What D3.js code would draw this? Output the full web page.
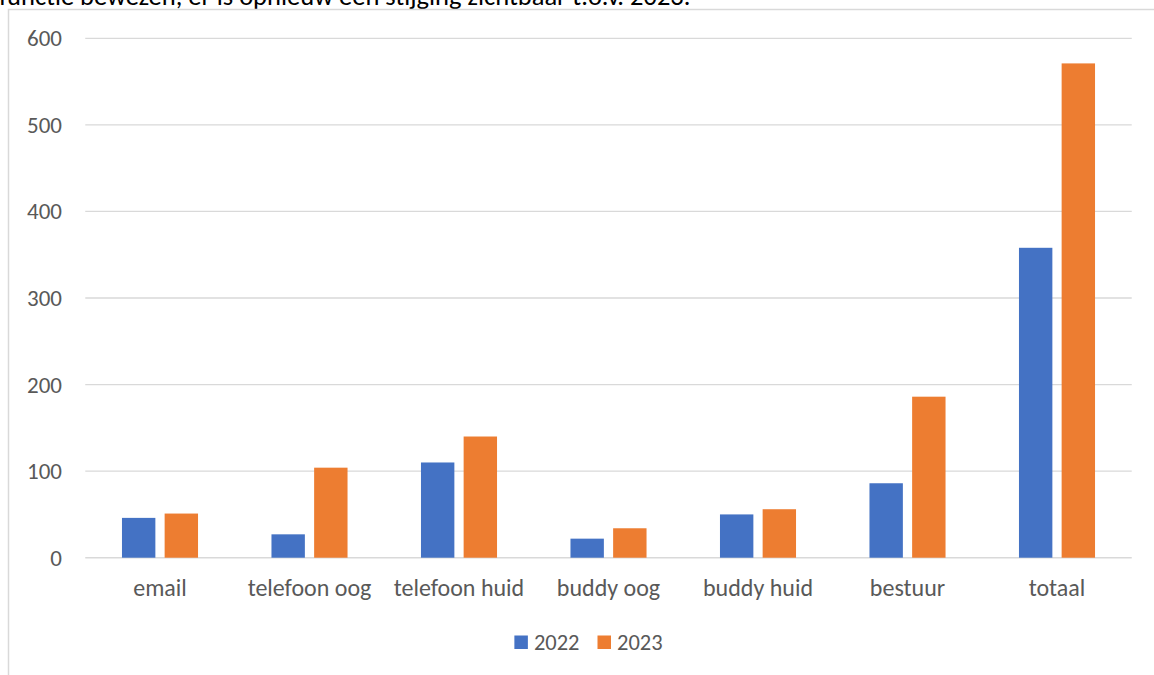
<!DOCTYPE html>
<html>
<head>
<meta charset="utf-8">
<script src="https://cdn.jsdelivr.net/npm/d3@7"></script>
<style>
  html, body { margin: 0; padding: 0; background: #ffffff; overflow: hidden; }
  svg { display: block; }
  text { font-family: Carlito, Calibri, Lato, "Open Sans", sans-serif; }
</style>
</head>
<body>
<svg id="chart" width="1154" height="675"></svg>
<script>
const categories = ["email", "telefoon oog", "telefoon huid", "buddy oog", "buddy huid", "bestuur", "totaal"];
const seriesNames = ["2022", "2023"];
const values2022 = [46, 27, 110, 22, 50, 86, 358];
const values2023 = [51, 104, 140, 34, 56, 186, 571];
const yTicks = [0, 100, 200, 300, 400, 500, 600];
const colors = ["#4472C4", "#ED7D31"];
const introText = "functie bewezen, er is opnieuw een stijging zichtbaar t.o.v. 2023.";

const svg = d3.select("#chart");
const W = 1154, H = 675;

// intro text of the surrounding document, cut off at the top as in the reference
svg.append("text")
  .attr("x", -1).attr("y", 5)
  .attr("fill", "#000000")
  .attr("font-size", 26.5)
  .text(introText);

// chart frame
svg.append("rect")
  .attr("x", 8.5).attr("y", 9.5)
  .attr("width", W + 20).attr("height", H + 20)
  .attr("fill", "#ffffff")
  .attr("stroke", "#d9d9d9").attr("stroke-width", 1.5);

const plot = { left: 85.25, right: 1131.75, top: 38.3, bottom: 557.7 };

const x = d3.scaleBand().domain(categories).range([plot.left, plot.right]).padding(0);
const y = d3.scaleLinear().domain([0, 600]).range([plot.bottom, plot.top]);

// gridlines
svg.append("g").selectAll("line").data(yTicks).join("line")
  .attr("x1", plot.left).attr("x2", plot.right)
  .attr("y1", d => y(d)).attr("y2", d => y(d))
  .attr("stroke", "#d9d9d9").attr("stroke-width", d => d === 0 ? 1.6 : 1.3);

// y tick labels
svg.append("g").selectAll("text").data(yTicks).join("text")
  .attr("x", 62).attr("y", d => y(d))
  .attr("dy", "0.35em")
  .attr("text-anchor", "end")
  .attr("fill", "#595959")
  .attr("font-size", 23)
  .text(d => d);

// bars
const bw = x.bandwidth();
const barW = bw * 0.2234;
const innerGap = bw * 0.062;
const sub = d3.scaleBand().domain(seriesNames)
  .range([bw / 2 - barW - innerGap / 2, bw / 2 + barW + innerGap / 2])
  .paddingInner(innerGap / (barW + innerGap))
  .paddingOuter(0);

const seriesData = [values2022, values2023];
seriesData.forEach((vals, si) => {
  svg.append("g").selectAll("rect").data(vals).join("rect")
    .attr("x", (d, i) => x(categories[i]) + sub(seriesNames[si]))
    .attr("width", sub.bandwidth())
    .attr("y", d => y(d))
    .attr("height", d => y(0) - y(d))
    .attr("fill", colors[si]);
});

// x labels
svg.append("g").selectAll("text").data(categories).join("text")
  .attr("x", d => x(d) + bw / 2)
  .attr("y", 588)
  .attr("dy", "0.35em")
  .attr("text-anchor", "middle")
  .attr("fill", "#595959")
  .attr("font-size", 24)
  .text(d => d);

// legend (centered around x = 588.5)
const legend = svg.append("g");
const sq = 13.5, sqGap = 6, itemGap = 18;
const items = seriesNames.map((name, i) => {
  const g = legend.append("g");
  g.append("rect").attr("x", 0).attr("y", -7).attr("width", sq).attr("height", sq).attr("fill", colors[i]);
  const t = g.append("text").attr("x", sq + sqGap).attr("y", 0).attr("dy", "0.35em")
    .attr("fill", "#595959").attr("font-size", 22.5).text(name);
  return { g, w: sq + sqGap + t.node().getComputedTextLength() };
});
const total = d3.sum(items, d => d.w) + itemGap * (items.length - 1);
let cx = 588.5 - total / 2;
items.forEach(it => {
  it.g.attr("transform", `translate(${cx},642.5)`);
  cx += it.w + itemGap;
});
</script>
</body>
</html>
